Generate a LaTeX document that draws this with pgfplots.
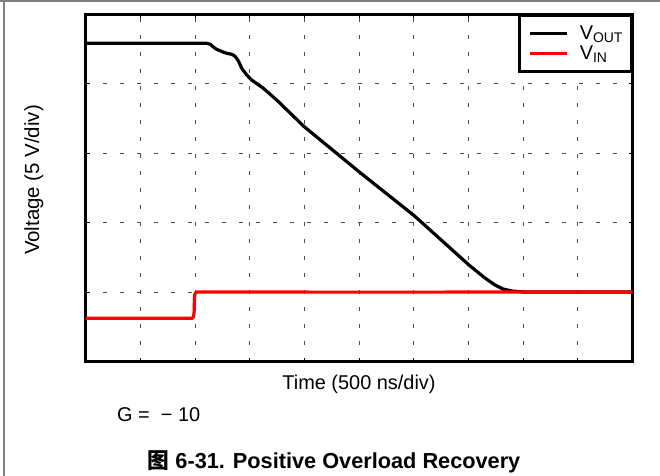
\documentclass[border=0pt]{standalone}
\usepackage{pgfplots}
\pgfplotsset{compat=1.18}
\usepackage{fontspec}
\setmainfont{Liberation Sans}
\newfontfamily\cjk{Noto Sans CJK SC}
\begin{document}
\begin{tikzpicture}
\path[use as bounding box] (0,0) rectangle (660bp,-476bp);
\fill[white] (0,0) rectangle (660bp,-476bp);
\draw[black!50, line width=1.7bp] (0,-0.85bp) -- (660bp,-0.85bp);
\draw[black!50, line width=2bp] (3.7bp,0) -- (3.7bp,-476bp);
\begin{axis}[at={(85.5bp,-361.5bp)}, anchor=south west, scale only axis,
  width=547bp, height=347.5bp,
  xmin=0, xmax=10, ymin=0, ymax=5,
  xtick={1,...,9}, ytick={1,...,4}, xticklabels={}, yticklabels={},
  tick align=inside, major tick length=4bp,
  tick style={black, line width=0.8bp},
  grid=major,
  major grid style={dash pattern=on 4bp off 13bp, black!70, line width=0.8bp},
  axis line style={line width=3bp},
  legend style={at={(1,1)}, anchor=north east, draw=black, line width=3bp,
    fill=white, font=\fontsize{20}{20}\selectfont, inner xsep=9bp, inner ysep=8bp,
    row sep=0bp, nodes={inner xsep=5bp, inner ysep=2.3bp}},
  legend cell align=left,
  legend image code/.code={\draw[#1] (0bp,0bp) -- (37bp,0bp); \path (43bp,0bp);},
]
\addplot[black, line width=3.2bp] coordinates {
(0,4.578) (2.216,4.578) (2.28,4.565) (2.331,4.529) (2.40,4.49) (2.459,4.472)
(2.52,4.452) (2.581,4.435) (2.673,4.420) (2.72,4.40) (2.764,4.363)
(2.81,4.30) (2.856,4.219) (2.947,4.124) (3.038,4.050) (3.245,3.935)
(3.495,3.763) (3.995,3.381) (5.018,2.719) (6.005,2.101) (7.011,1.388)
(7.303,1.201) (7.486,1.101) (7.633,1.043) (7.797,1.014) (8.035,1.0) (10,1.0)
};
\addlegendentry{V\textsubscript{OUT}\kern-6bp}
\addplot[red, line width=3.2bp] coordinates {
(0,0.622) (1.95,0.622) (1.972,0.64) (1.985,0.7) (1.992,0.9) (2.0,0.97)
(2.02,0.995) (2.06,1.0) (5,0.998) (10,1.0)
};
\addlegendentry{V\textsubscript{IN}}
\end{axis}
\node[anchor=base, font=\fontsize{20}{24}\selectfont, inner sep=0] at (359bp,-389bp) {Time (500 ns/div)};
\node[anchor=base, rotate=90, font=\fontsize{20.5}{24}\selectfont, inner sep=0] at (39bp,-180bp) {Voltage (5 V/div)};
\node[anchor=base west, font=\fontsize{20}{24}\selectfont, inner sep=0] at (117bp,-421bp) {G = \ − 10};
\node[anchor=base, font=\fontsize{21.8}{26}\selectfont\bfseries, inner sep=0] at (334bp,-468bp) {{\cjk\bfseries 图} 6-31. Positive Overload Recovery};
\end{tikzpicture}
\end{document}
